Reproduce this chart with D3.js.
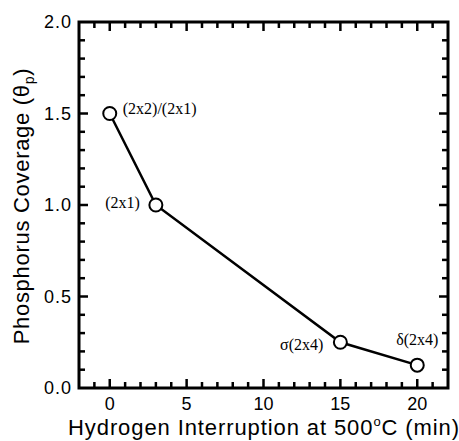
<!DOCTYPE html>
<html>
<head>
<meta charset="utf-8">
<script src="https://cdn.jsdelivr.net/npm/d3@7"></script>
<style>
  body { margin: 0; background: #fff; }
  svg { display: block; }
</style>
</head>
<body>
<div id="chart"></div>
<script>
// data
const minutes = [0, 3, 15, 20];
const coverage = [1.5, 1.0, 0.25, 0.125];
const phases = ["(2x2)/(2x1)", "(2x1)", "σ(2x4)", "δ(2x4)"];
const xTicks = [0, 5, 10, 15, 20];
const yTicks = [0.0, 0.5, 1.0, 1.5, 2.0];

// set the dimensions and margins of the graph
const margin = {top: 22, right: 11, bottom: 53, left: 79},
    width = 459 - margin.left - margin.right,
    height = 441 - margin.top - margin.bottom;

const svg = d3.select("#chart")
    .append("svg")
    .attr("width", width + margin.left + margin.right)
    .attr("height", height + margin.top + margin.bottom);

const g = svg.append("g")
    .attr("transform", `translate(${margin.left},${margin.top})`);

const x = d3.scaleLinear().domain([-2, 22]).range([0, width]);
const y = d3.scaleLinear().domain([0, 2]).range([height, 0]);

const font = "Liberation Sans, Arial, Helvetica, sans-serif";

// minor ticks every 1 min / 0.1, majors at the labels; all inside the frame
const xAll = d3.range(-1, 22, 1).map(v => ({v: v, len: v % 5 === 0 ? 9 : 6}));
const yAll = d3.range(1, 20, 1).map(v => ({v: v / 10, len: v % 5 === 0 ? 9 : 6}));

const tickG = g.append("g").attr("stroke", "#000").attr("stroke-width", 2.5);
// bottom and top
[height, 0].forEach(edge => {
  const dir = edge === 0 ? 1 : -1;
  tickG.append("g").selectAll("line")
      .data(xAll)
      .join("line")
      .attr("x1", d => x(d.v)).attr("x2", d => x(d.v))
      .attr("y1", edge).attr("y2", d => edge + dir * d.len);
});
// left and right
[0, width].forEach(edge => {
  const dir = edge === 0 ? 1 : -1;
  tickG.append("g").selectAll("line")
      .data(yAll)
      .join("line")
      .attr("y1", d => y(d.v)).attr("y2", d => y(d.v))
      .attr("x1", edge).attr("x2", d => edge + dir * d.len);
});

// frame
g.append("rect")
    .attr("x", 0).attr("y", 0)
    .attr("width", width).attr("height", height)
    .attr("fill", "none")
    .attr("stroke", "#000")
    .attr("stroke-width", 3);

// tick labels
g.selectAll(".xlab")
    .data(xTicks)
    .join("text")
    .attr("x", d => x(d))
    .attr("y", height + 22)
    .attr("text-anchor", "middle")
    .attr("font-family", font)
    .attr("font-size", 18)
    .text(d => d);

g.selectAll(".ylab")
    .data(yTicks)
    .join("text")
    .attr("x", -7)
    .attr("y", d => y(d))
    .attr("dy", "0.36em")
    .attr("text-anchor", "end")
    .attr("font-family", font)
    .attr("font-size", 18)
    .attr("letter-spacing", 1)
    .text(d => d3.format(".1f")(d));

// stretch a title to the width it has in the picture
function fit(sel, target) {
  const w = sel.node().getComputedTextLength();
  const n = sel.text().length;
  sel.attr("letter-spacing", (target - w) / (n - 1));
}

// axis titles
const xt = svg.append("text")
    .attr("x", 264)
    .attr("y", 435)
    .attr("text-anchor", "middle")
    .attr("font-family", font)
    .attr("font-size", 22);
xt.append("tspan").text("Hydrogen Interruption at 500");
xt.append("tspan").attr("font-size", 13).attr("dy", -9).text("o");
xt.append("tspan").attr("dy", 9).text("C (min)");
fit(xt, 391);

const yt = svg.append("text")
    .attr("transform", "translate(29,206) rotate(-90)")
    .attr("text-anchor", "middle")
    .attr("font-family", font)
    .attr("font-size", 22);
yt.append("tspan").text("Phosphorus Coverage (θ");
yt.append("tspan").attr("font-size", 14).attr("dy", 5).text("p");
yt.append("tspan").attr("dy", -5).text(")");
fit(yt, 276);

// line and markers
const pts = minutes.map((m, i) => ({m: m, c: coverage[i], label: phases[i]}));

g.append("path")
    .datum(pts)
    .attr("fill", "none")
    .attr("stroke", "#000")
    .attr("stroke-width", 2.5)
    .attr("d", d3.line().x(d => x(d.m)).y(d => y(d.c)));

g.selectAll("circle")
    .data(pts)
    .join("circle")
    .attr("cx", d => x(d.m))
    .attr("cy", d => y(d.c))
    .attr("r", 6.5)
    .attr("fill", "#fff")
    .attr("stroke", "#000")
    .attr("stroke-width", 2);

// phase labels
const labelPos = [
  {dx: 13, dy: -5, anchor: "start"},
  {dx: -16, dy: -2, anchor: "end"},
  {dx: -17, dy: 3, anchor: "end"},
  {dx: 0, dy: -25, anchor: "middle"}
];
g.selectAll(".phase")
    .data(pts)
    .join("text")
    .attr("x", (d, i) => x(d.m) + labelPos[i].dx)
    .attr("y", (d, i) => y(d.c) + labelPos[i].dy)
    .attr("dy", "0.32em")
    .attr("text-anchor", (d, i) => labelPos[i].anchor)
    .attr("font-family", "Liberation Serif, Times New Roman, serif")
    .attr("font-size", 16)
    .text(d => d.label);
</script>
</body>
</html>
